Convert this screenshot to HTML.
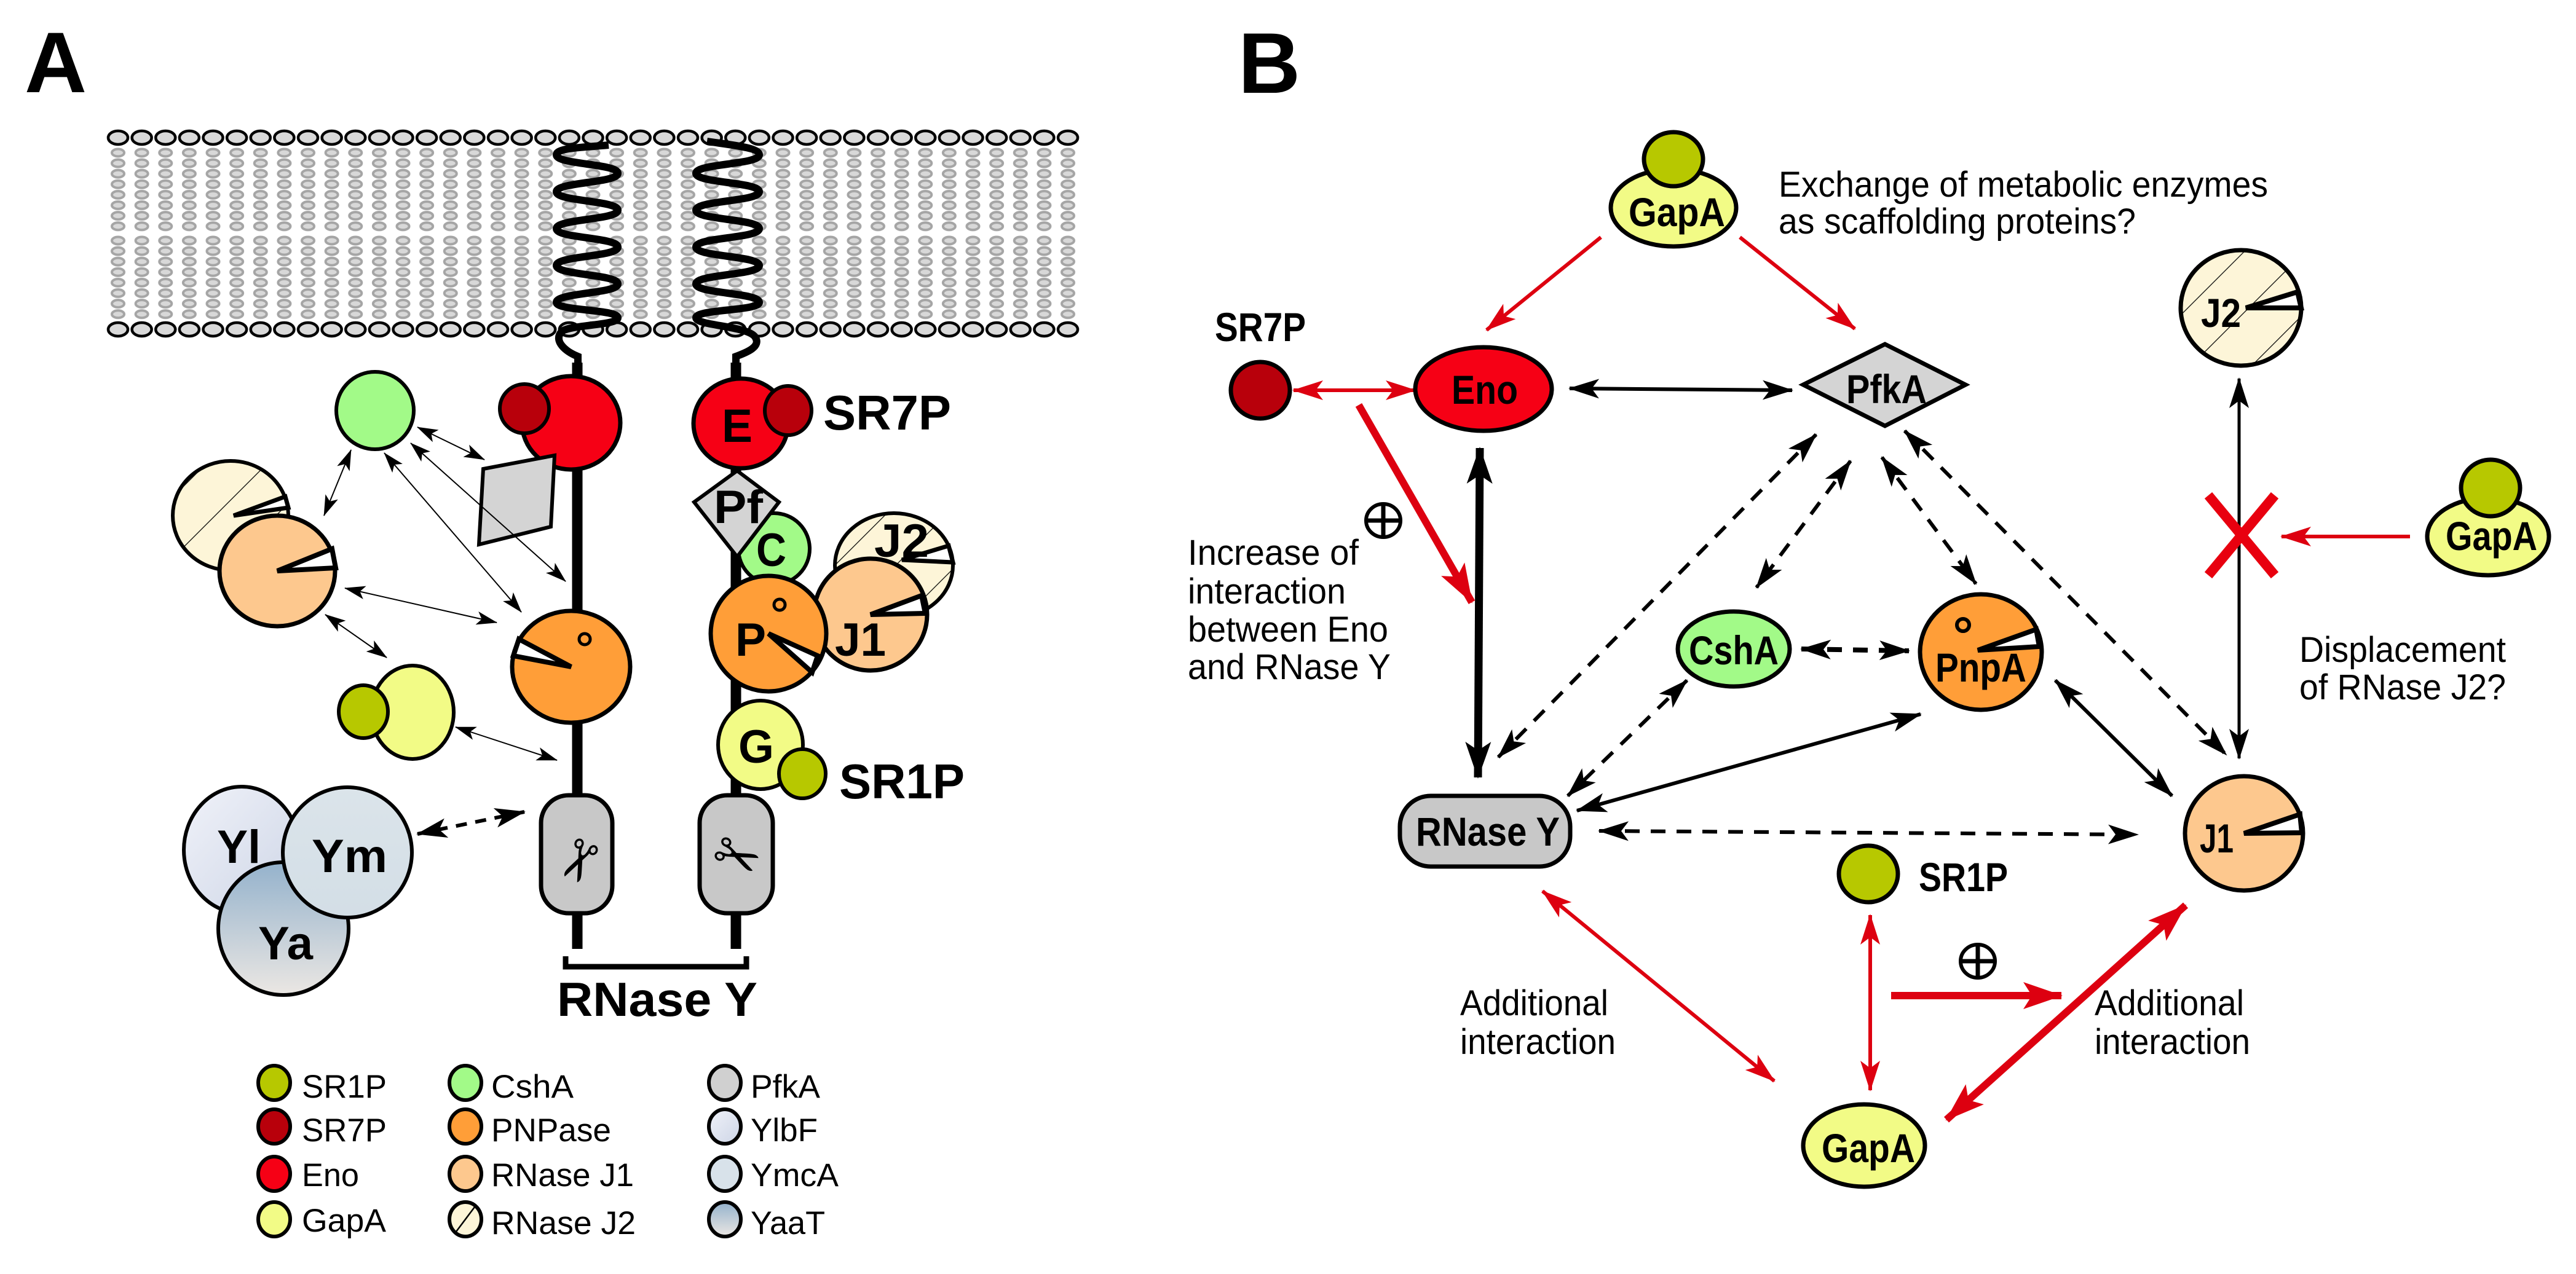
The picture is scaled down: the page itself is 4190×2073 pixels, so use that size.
<!DOCTYPE html>
<html><head><meta charset="utf-8"><style>
html,body{margin:0;padding:0;background:#fff}
svg{display:block}
text{font-family:"Liberation Sans",Arial,sans-serif}
.b{font-weight:bold}
</style></head><body>
<svg width="4190" height="2073" viewBox="0 0 4190 2073" xmlns="http://www.w3.org/2000/svg">
<defs>
<pattern id="lip" x="172.7" y="240" width="38.625" height="17.1" patternUnits="userSpaceOnUse">
<ellipse cx="19.3" cy="8.5" rx="10" ry="6" fill="#d8d8d8" stroke="#a5a5a5" stroke-width="4"/>
</pattern>
<pattern id="lip2" x="172.7" y="383" width="38.625" height="17.1" patternUnits="userSpaceOnUse">
<ellipse cx="19.3" cy="8.5" rx="10" ry="6" fill="#d8d8d8" stroke="#a5a5a5" stroke-width="4"/>
</pattern>
<pattern id="head" x="172.7" y="0" width="38.625" height="2073" patternUnits="userSpaceOnUse">
<ellipse cx="19.3" cy="224" rx="16" ry="11" fill="#d9d9d9" stroke="#000" stroke-width="4.5"/>
<ellipse cx="19.3" cy="536" rx="16" ry="11" fill="#d9d9d9" stroke="#000" stroke-width="4.5"/>
</pattern>
<pattern id="hatch" width="70" height="70" patternUnits="userSpaceOnUse" patternTransform="rotate(45)">
<rect width="70" height="70" fill="#fdf5d8"/><line x1="0" y1="0" x2="0" y2="70" stroke="#000" stroke-width="2.5"/>
</pattern>
<linearGradient id="gyl" x1="0" y1="0" x2="1" y2="1"><stop offset="0" stop-color="#f0f2f9"/><stop offset="1" stop-color="#cdd5e6"/></linearGradient>
<linearGradient id="gym" x1="0" y1="0" x2="0" y2="1"><stop offset="0" stop-color="#dbe4ea"/><stop offset="1" stop-color="#d3dee6"/></linearGradient>
<linearGradient id="gya" x1="0" y1="0" x2="0" y2="1"><stop offset="0" stop-color="#94b2cc"/><stop offset="1" stop-color="#ebe7e3"/></linearGradient>
<marker id="as" markerUnits="userSpaceOnUse" markerWidth="34" markerHeight="26" viewBox="0 0 34 26" refX="33" refY="13" orient="auto-start-reverse"><path d="M0,2 L34,13 L0,24 L8,13z" fill="#000"/></marker>
<marker id="ab" markerUnits="userSpaceOnUse" markerWidth="50" markerHeight="40" viewBox="0 0 50 40" refX="48" refY="20" orient="auto-start-reverse"><path d="M0,4 L50,20 L0,36 L12,20z" fill="#000"/></marker>
<marker id="abb" markerUnits="userSpaceOnUse" markerWidth="60" markerHeight="50" viewBox="0 0 60 50" refX="58" refY="25" orient="auto-start-reverse"><path d="M0,4 L60,25 L0,46 L14,25z" fill="#000"/></marker>
<marker id="ar" markerUnits="userSpaceOnUse" markerWidth="50" markerHeight="40" viewBox="0 0 50 40" refX="48" refY="20" orient="auto-start-reverse"><path d="M0,4 L50,20 L0,36 L12,20z" fill="#dd0010"/></marker>
<marker id="arb" markerUnits="userSpaceOnUse" markerWidth="64" markerHeight="52" viewBox="0 0 64 52" refX="62" refY="26" orient="auto-start-reverse"><path d="M0,4 L64,26 L0,48 L14,26z" fill="#dd0010"/></marker>
</defs>

<!-- ===== PANEL A ===== -->
<text x="40" y="150" font-size="140" class="b">A</text>

<!-- membrane -->
<rect x="172.7" y="240" width="1583" height="137" fill="url(#lip)"/>
<rect x="172.7" y="383" width="1583" height="137" fill="url(#lip2)"/>
<rect x="172.7" y="205" width="1583" height="345" fill="url(#head)"/>

<!-- helices -->
<g fill="none" stroke="#000" stroke-width="12" stroke-linecap="butt">
<path d="M990,236 C950,240 905,240 905,252 C905,268 1005,266 1005,282 C1005,298 905,296 905,312 C905,328 1005,326 1005,342 C1005,358 905,356 905,372 C905,388 1005,386 1005,402 C1005,418 905,416 905,432 C905,448 1005,446 1005,462 C1005,478 905,476 905,492 C905,506 1005,503 1005,517 C1005,530 925,528 913,540 C900,555 920,572 940,580 L940,600"/>
<path d="M1150,230 C1190,236 1235,240 1235,252 C1235,268 1132,266 1132,282 C1132,298 1235,296 1235,312 C1235,328 1132,326 1132,342 C1132,358 1235,356 1235,372 C1235,388 1132,386 1132,402 C1132,418 1235,416 1235,432 C1235,448 1132,446 1132,462 C1132,478 1235,476 1235,492 C1235,506 1132,503 1132,517 C1132,530 1215,530 1228,548 C1240,565 1210,575 1197,580 L1197,600"/>
</g>
<!-- stalks -->
<line x1="939" y1="590" x2="939" y2="1544" stroke="#000" stroke-width="17"/>
<line x1="1197" y1="590" x2="1197" y2="1544" stroke="#000" stroke-width="17"/>
<!-- bracket -->
<path d="M920,1556 V1573 H1214 V1556" fill="none" stroke="#000" stroke-width="9"/>
<text x="906" y="1653" font-size="78" class="b" textLength="326" lengthAdjust="spacingAndGlyphs">RNase Y</text>

<!-- capsules -->
<rect x="880" y="1294" width="116" height="192" rx="45" fill="#c8c8c8" stroke="#000" stroke-width="7"/>
<rect x="1138" y="1294" width="119" height="192" rx="45" fill="#c8c8c8" stroke="#000" stroke-width="7"/>
<text x="0" y="0" font-size="90" font-family="DejaVu Sans" text-anchor="middle" transform="translate(940,1400) rotate(115)" dominant-baseline="central">✂</text>
<text x="0" y="0" font-size="90" font-family="DejaVu Sans" text-anchor="middle" transform="translate(1198,1395) rotate(25)" dominant-baseline="central">✂</text>

<!-- left side proteins -->
<ellipse cx="929" cy="688" rx="80" ry="76" fill="#f60015" stroke="#000" stroke-width="7"/>
<ellipse cx="853" cy="665" rx="40" ry="40" fill="#b8000b" stroke="#000" stroke-width="6"/>
<polygon points="786,763 902,741 896,857 779,886" fill="#d4d4d4" stroke="#000" stroke-width="6"/>
<ellipse cx="929" cy="1085" rx="96" ry="91" fill="#ff9e38" stroke="#000" stroke-width="7"/>
<polygon points="929,1085 844,1040 835,1067" fill="#fff" stroke="#000" stroke-width="8"/>
<circle cx="951" cy="1040" r="9" fill="none" stroke="#000" stroke-width="5"/>
<ellipse cx="610" cy="668" rx="63" ry="63" fill="#a2fa88" stroke="#000" stroke-width="6"/>
<ellipse cx="375" cy="839" rx="94" ry="89" fill="url(#hatch)" stroke="#000" stroke-width="6"/>
<polygon points="380,839 464,808 469,826" fill="#fff" stroke="#000" stroke-width="7"/>
<ellipse cx="451" cy="929" rx="94" ry="90" fill="#fdc88e" stroke="#000" stroke-width="7"/>
<polygon points="451,929 540,893 546,924" fill="#fff" stroke="#000" stroke-width="8"/>
<ellipse cx="671" cy="1159" rx="67" ry="76" fill="#f2fb86" stroke="#000" stroke-width="6"/>
<ellipse cx="591" cy="1158" rx="40" ry="43" fill="#b7c800" stroke="#000" stroke-width="6"/>

<!-- Y complex -->
<ellipse cx="393" cy="1383" rx="94" ry="103" fill="url(#gyl)" stroke="#000" stroke-width="6"/>
<ellipse cx="461" cy="1511" rx="106" ry="108" fill="url(#gya)" stroke="#000" stroke-width="6"/>
<ellipse cx="565" cy="1387" rx="105" ry="106" fill="url(#gym)" stroke="#000" stroke-width="6"/>
<text x="353" y="1404" font-size="76" class="b" textLength="71" lengthAdjust="spacingAndGlyphs">Yl</text>
<text x="507" y="1419" font-size="76" class="b" textLength="123" lengthAdjust="spacingAndGlyphs">Ym</text>
<text x="420" y="1561" font-size="76" class="b" textLength="89" lengthAdjust="spacingAndGlyphs">Ya</text>

<!-- thin arrows A -->
<g stroke="#000" stroke-width="2" marker-start="url(#as)" marker-end="url(#as)">
<line x1="571" y1="732" x2="527" y2="839"/>
<line x1="679" y1="695" x2="788" y2="748"/>
<line x1="668" y1="721" x2="920" y2="946"/>
<line x1="625" y1="737" x2="848" y2="996"/>
<line x1="561" y1="957" x2="808" y2="1013"/>
<line x1="529" y1="1000" x2="629" y2="1070"/>
<line x1="741" y1="1183" x2="906" y2="1237"/>
</g>
<line x1="679" y1="1357" x2="853" y2="1321" stroke="#000" stroke-width="6" stroke-dasharray="18 14" marker-start="url(#ab)" marker-end="url(#ab)"/>

<!-- right strand proteins -->
<ellipse cx="1259" cy="893" rx="58" ry="58" fill="#a2fa88" stroke="#000" stroke-width="6"/>
<polygon points="1199,766 1267,817 1199,906 1129,817" fill="#d4d4d4" stroke="#000" stroke-width="6"/>
<ellipse cx="1205" cy="689" rx="77" ry="73" fill="#f60015" stroke="#000" stroke-width="7"/>
<ellipse cx="1282" cy="668" rx="38" ry="40" fill="#b8000b" stroke="#000" stroke-width="6"/>
<ellipse cx="1454" cy="920" rx="96" ry="85" fill="url(#hatch)" stroke="#000" stroke-width="6"/>
<polygon points="1467,911 1543,888 1550,915" fill="#fff" stroke="#000" stroke-width="7"/>
<ellipse cx="1416" cy="1000" rx="92" ry="91" fill="#fdc88e" stroke="#000" stroke-width="7"/>
<polygon points="1416,1000 1499,969 1505,998" fill="#fff" stroke="#000" stroke-width="8"/>
<ellipse cx="1250" cy="1031" rx="94" ry="94" fill="#ff9e38" stroke="#000" stroke-width="7"/>
<polygon points="1250,1031 1330,1067 1321,1094" fill="#fff" stroke="#000" stroke-width="8"/>
<circle cx="1268" cy="984" r="9" fill="none" stroke="#000" stroke-width="5"/>
<ellipse cx="1237" cy="1212" rx="69" ry="72" fill="#f2fb86" stroke="#000" stroke-width="6"/>
<ellipse cx="1305" cy="1259" rx="38" ry="40" fill="#b7c800" stroke="#000" stroke-width="6"/>
<g class="b" font-size="76">
<text x="1174" y="719" textLength="50" lengthAdjust="spacingAndGlyphs">E</text>
<text x="1161" y="851" textLength="80" lengthAdjust="spacingAndGlyphs">Pf</text>
<text x="1230" y="921" textLength="49" lengthAdjust="spacingAndGlyphs">C</text>
<text x="1422" y="906" textLength="89" lengthAdjust="spacingAndGlyphs">J2</text>
<text x="1358" y="1067" textLength="83" lengthAdjust="spacingAndGlyphs">J1</text>
<text x="1196" y="1067" textLength="50" lengthAdjust="spacingAndGlyphs">P</text>
<text x="1201" y="1241" textLength="58" lengthAdjust="spacingAndGlyphs">G</text>
<text x="1339" y="699" font-size="80" textLength="208" lengthAdjust="spacingAndGlyphs">SR7P</text>
<text x="1365" y="1299" font-size="80" textLength="204" lengthAdjust="spacingAndGlyphs">SR1P</text>
</g>

<!-- legend -->
<g stroke="#000" stroke-width="6">
<ellipse cx="446" cy="1762" rx="26" ry="28" fill="#b7c800"/>
<ellipse cx="446" cy="1833" rx="26" ry="28" fill="#b8000b"/>
<ellipse cx="446" cy="1910" rx="26" ry="28" fill="#f60015"/>
<ellipse cx="446" cy="1984" rx="26" ry="28" fill="#f2fb86"/>
<ellipse cx="757" cy="1762" rx="26" ry="28" fill="#a2fa88"/>
<ellipse cx="757" cy="1833" rx="26" ry="28" fill="#ff9e38"/>
<ellipse cx="757" cy="1910" rx="26" ry="28" fill="#fdc88e"/>
<ellipse cx="757" cy="1984" rx="26" ry="28" fill="#fdf5d8"/>
<ellipse cx="1179" cy="1762" rx="26" ry="28" fill="#d0d0d0"/>
<ellipse cx="1179" cy="1833" rx="26" ry="28" fill="url(#gyl)"/>
<ellipse cx="1179" cy="1910" rx="26" ry="28" fill="#d8e2ea"/>
<ellipse cx="1179" cy="1984" rx="26" ry="28" fill="url(#gya)"/>
</g>
<line x1="742" y1="2004" x2="772" y2="1964" stroke="#000" stroke-width="2.5"/>
<g font-size="53">
<text x="491" y="1786" textLength="138" lengthAdjust="spacingAndGlyphs">SR1P</text>
<text x="491" y="1857" textLength="138" lengthAdjust="spacingAndGlyphs">SR7P</text>
<text x="491" y="1930" textLength="93" lengthAdjust="spacingAndGlyphs">Eno</text>
<text x="491" y="2004" textLength="137" lengthAdjust="spacingAndGlyphs">GapA</text>
<text x="799" y="1786" textLength="134" lengthAdjust="spacingAndGlyphs">CshA</text>
<text x="799" y="1857" textLength="195" lengthAdjust="spacingAndGlyphs">PNPase</text>
<text x="799" y="1930" textLength="232" lengthAdjust="spacingAndGlyphs">RNase J1</text>
<text x="799" y="2008" textLength="235" lengthAdjust="spacingAndGlyphs">RNase J2</text>
<text x="1221" y="1786" textLength="113" lengthAdjust="spacingAndGlyphs">PfkA</text>
<text x="1221" y="1857" textLength="109" lengthAdjust="spacingAndGlyphs">YlbF</text>
<text x="1221" y="1930" textLength="143" lengthAdjust="spacingAndGlyphs">YmcA</text>
<text x="1221" y="2008" textLength="121" lengthAdjust="spacingAndGlyphs">YaaT</text>
</g>

<!-- ===== PANEL B ===== -->
<text x="2014" y="151" font-size="140" class="b">B</text>

<g stroke="#000" stroke-width="6" stroke-dasharray="24 18" marker-start="url(#ab)" marker-end="url(#ab)" fill="none">
<line x1="2954" y1="707" x2="2437" y2="1232"/>
<line x1="3010" y1="750" x2="2857" y2="956"/>
<line x1="3061" y1="744" x2="3214" y2="950"/>
<line x1="3098" y1="701" x2="3621" y2="1228"/>
<line x1="2930" y1="1056" x2="3105" y2="1059" stroke-width="8"/>
<line x1="2744" y1="1107" x2="2550" y2="1295"/>
<line x1="2601" y1="1352" x2="3477" y2="1358"/>
</g>
<g stroke="#000" stroke-width="6" marker-start="url(#ab)" marker-end="url(#ab)">
<line x1="2553" y1="632" x2="2915" y2="635"/>
<line x1="2565" y1="1319" x2="3124" y2="1162"/>
<line x1="3343" y1="1107" x2="3533" y2="1295"/>
<line x1="3642" y1="616" x2="3642" y2="1234" stroke-width="5"/>
</g>
<line x1="2407" y1="729" x2="2404" y2="1265" stroke="#000" stroke-width="13" marker-start="url(#abb)" marker-end="url(#abb)"/>

<g stroke="#dd0010" stroke-width="6">
<line x1="2104" y1="635" x2="2302" y2="635" marker-start="url(#ar)" marker-end="url(#ar)"/>
<line x1="2604" y1="386" x2="2418" y2="537" marker-end="url(#ar)"/>
<line x1="2830" y1="386" x2="3017" y2="535" marker-end="url(#ar)"/>
<line x1="3920" y1="873" x2="3711" y2="873" marker-end="url(#ar)"/>
<line x1="3042" y1="1489" x2="3042" y2="1774" marker-start="url(#ar)" marker-end="url(#ar)"/>
<line x1="2509" y1="1450" x2="2886" y2="1759" marker-start="url(#ar)" marker-end="url(#ar)"/>
</g>
<g stroke="#dd0010" stroke-width="12">
<line x1="2210" y1="659" x2="2394" y2="980" marker-end="url(#arb)"/>
<line x1="3076" y1="1620" x2="3353" y2="1620" marker-end="url(#arb)"/>
<line x1="3555" y1="1473" x2="3166" y2="1822" marker-start="url(#arb)" marker-end="url(#arb)"/>
</g>
<g stroke="#e8000f" stroke-width="16" stroke-linecap="butt">
<line x1="3592" y1="806" x2="3700" y2="936"/>
<line x1="3700" y1="806" x2="3592" y2="936"/>
</g>

<g stroke="#000" stroke-width="6" fill="#fff">
<ellipse cx="2250" cy="847" rx="28" ry="27"/>
<ellipse cx="3217" cy="1564" rx="28" ry="27"/>
</g>
<g stroke="#000" stroke-width="7">
<line x1="2224" y1="847" x2="2276" y2="847"/><line x1="2250" y1="821" x2="2250" y2="873"/>
<line x1="3191" y1="1564" x2="3243" y2="1564"/><line x1="3217" y1="1538" x2="3217" y2="1590"/>
</g>

<g stroke="#000" stroke-width="7">
<ellipse cx="2722" cy="338" rx="102" ry="63" fill="#f2fb86"/>
<ellipse cx="2722" cy="259" rx="48" ry="44" fill="#b7c800"/>
<ellipse cx="2050" cy="635" rx="48" ry="46" fill="#b8000b"/>
<ellipse cx="2413" cy="633" rx="111" ry="68" fill="#f60015"/>
<polygon points="2933,626 3066,560 3197,626 3066,693" fill="#d4d4d4"/>
<ellipse cx="3645" cy="501" rx="98" ry="94" fill="url(#hatch)"/>
<ellipse cx="4047" cy="873" rx="99" ry="63" fill="#f2fb86"/>
<ellipse cx="4051" cy="794" rx="48" ry="46" fill="#b7c800"/>
<ellipse cx="2820" cy="1056" rx="91" ry="61" fill="#a2fa88"/>
<ellipse cx="3222" cy="1061" rx="99" ry="94" fill="#ff9e38"/>
<rect x="2277" y="1295" width="277" height="115" rx="50" fill="#c8c8c8"/>
<ellipse cx="3650" cy="1356" rx="96" ry="93" fill="#fdc88e"/>
<ellipse cx="3039" cy="1422" rx="48" ry="46" fill="#b7c800"/>
<ellipse cx="3032" cy="1864" rx="99" ry="67" fill="#f2fb86"/>
</g>
<g stroke="#000" stroke-width="8" fill="#fff">
<polygon points="3653,501 3737,475 3743,501"/>
<polygon points="3217,1058 3312,1024 3317,1052"/>
<polygon points="3650,1356 3741,1325 3744,1355"/>
</g>
<circle cx="3193" cy="1017" r="10" fill="none" stroke="#000" stroke-width="6"/>

<g class="b" font-size="66">
<text x="2649" y="368" textLength="157" lengthAdjust="spacingAndGlyphs">GapA</text>
<text x="1976" y="555" textLength="148" lengthAdjust="spacingAndGlyphs">SR7P</text>
<text x="2361" y="657" textLength="108" lengthAdjust="spacingAndGlyphs">Eno</text>
<text x="3003" y="656" textLength="131" lengthAdjust="spacingAndGlyphs">PfkA</text>
<text x="3580" y="532" textLength="65" lengthAdjust="spacingAndGlyphs">J2</text>
<text x="3978" y="895" textLength="149" lengthAdjust="spacingAndGlyphs">GapA</text>
<text x="2747" y="1081" textLength="146" lengthAdjust="spacingAndGlyphs">CshA</text>
<text x="3148" y="1109" textLength="148" lengthAdjust="spacingAndGlyphs">PnpA</text>
<text x="2303" y="1376" textLength="234" lengthAdjust="spacingAndGlyphs">RNase Y</text>
<text x="3578" y="1387" textLength="55" lengthAdjust="spacingAndGlyphs">J1</text>
<text x="3121" y="1450" textLength="145" lengthAdjust="spacingAndGlyphs">SR1P</text>
<text x="2963" y="1891" textLength="152" lengthAdjust="spacingAndGlyphs">GapA</text>
</g>
<g font-size="58">
<text x="2893" y="320" textLength="796" lengthAdjust="spacingAndGlyphs">Exchange of metabolic enzymes</text>
<text x="2893" y="380" textLength="581" lengthAdjust="spacingAndGlyphs">as scaffolding proteins?</text>
<text x="1932" y="919" textLength="278" lengthAdjust="spacingAndGlyphs">Increase of</text>
<text x="1932" y="982" textLength="257" lengthAdjust="spacingAndGlyphs">interaction</text>
<text x="1932" y="1044" textLength="326" lengthAdjust="spacingAndGlyphs">between Eno</text>
<text x="1932" y="1105" textLength="330" lengthAdjust="spacingAndGlyphs">and RNase Y</text>
<text x="3740" y="1077" textLength="336" lengthAdjust="spacingAndGlyphs">Displacement</text>
<text x="3740" y="1138" textLength="336" lengthAdjust="spacingAndGlyphs">of RNase J2?</text>
<text x="2375" y="1652" textLength="241" lengthAdjust="spacingAndGlyphs">Additional</text>
<text x="2375" y="1715" textLength="253" lengthAdjust="spacingAndGlyphs">interaction</text>
<text x="3407" y="1652" textLength="243" lengthAdjust="spacingAndGlyphs">Additional</text>
<text x="3407" y="1715" textLength="253" lengthAdjust="spacingAndGlyphs">interaction</text>
</g>
</svg>
</body></html>
